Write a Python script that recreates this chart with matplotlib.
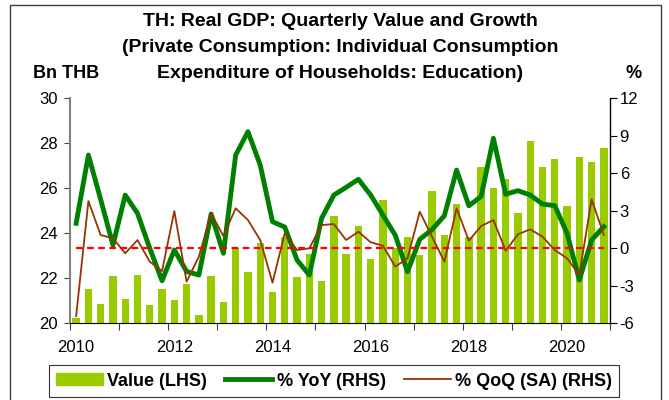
import matplotlib.pyplot as plt
import matplotlib.patches as mpatches
import numpy as np

plt.rcParams["font.family"] = "Liberation Sans"
plt.rcParams["axes.unicode_minus"] = False

# quarters 2010Q1 .. 2020Q4
quarters = [f"{y}Q{q}" for y in range(2010, 2021) for q in range(1, 5)]
year_labels = ["2010", "2012", "2014", "2016", "2018", "2020"]

# Bn THB (LHS)
value = [20.22, 21.52, 20.84, 22.09, 21.09, 22.15, 20.81, 21.52,
         21.05, 21.75, 20.36, 22.09, 20.95, 23.36, 22.27, 23.57,
         21.39, 23.85, 22.04, 23.06, 21.89, 24.77, 23.10, 24.32,
         22.86, 25.49, 23.35, 23.85, 23.05, 25.88, 23.93, 25.32,
         23.83, 26.95, 26.03, 26.41, 24.92, 28.10, 26.95, 27.32,
         25.21, 27.38, 27.16, 27.78]

# % YoY (RHS)
yoy = [2.0, 7.46, 3.9, 0.26, 4.26, 2.8, 0.0, -2.6,
       -0.13, -1.85, -2.14, 2.74, -0.4, 7.46, 9.33, 6.66,
       2.13, 1.7, -0.94, -2.14, 2.4, 4.26, 4.88, 5.52,
       4.26, 2.66, 1.05, -1.87, 0.72, 1.5, 2.6, 6.26,
       3.4, 4.15, 8.8, 4.33, 4.61, 4.26, 3.54, 3.41,
       1.2, -2.54, 0.66, 1.73]

# % QoQ (SA) (RHS)
qoq = [-5.42, 3.78, 1.06, 0.8, -0.4, 0.66, -1.07, -1.82,
       2.98, -2.67, -0.67, 2.8, 0.98, 3.2, 2.26, 0.66,
       -2.75, 1.2, -0.14, 0.0, 1.86, 1.94, 0.66, 1.33,
       0.48, 0.21, -1.47, -0.8, 2.93, 0.93, -1.07, 3.2,
       0.61, 1.78, 2.26, -0.2, 1.12, 1.52, 0.93, -0.14,
       -0.8, -2.14, 3.92, 1.06]

fig = plt.figure(figsize=(6.69, 4.0), dpi=100)
ax = fig.add_axes([70/669, 1 - 323.3/400, 540/669, 225/400])

x = np.arange(len(quarters))
ax.bar(x, value, width=0.6, color='#99CC00', zorder=2)
ax.set_ylim(20, 30)
ax.set_yticks(np.arange(20, 31, 2))
ax.set_xlim(-0.5, len(quarters) - 0.5)

# year boundaries as tick marks, labels every 2 years on first quarter
ax.set_xticks(np.arange(-0.5, len(quarters), 4))
ax.set_xticklabels([])
ax.set_xticks(np.arange(0, len(quarters), 8), minor=True)
ax.set_xticklabels(year_labels, minor=True)
ax.tick_params(axis='x', which='major', length=5, width=0.8, color='#404040')
ax.tick_params(axis='x', which='minor', length=0, pad=12, labelsize=12)
ax.tick_params(axis='y', length=4, width=0.8, pad=5, labelsize=12, color='#404040')

ax.spines['top'].set_visible(False)
ax.spines['right'].set_visible(False)
ax.spines['left'].set_color('#808080')
ax.spines['left'].set_linewidth(1.5)

ax2 = ax.twinx()
ax2.plot(x, yoy, color='#008000', lw=3.5, zorder=3)
ax2.plot(x, qoq, color='#993300', lw=1.3, zorder=4)
ax2.plot(x, np.zeros(len(x)), color='#FF0000', lw=1.6, ls=(0, (3, 2)), zorder=5)
ax2.set_ylim(-6, 12)
ax2.set_yticks(np.arange(-6, 13, 3))
ax2.tick_params(axis='y', length=5, width=0.8, pad=2, labelsize=12)
ax2.spines['top'].set_visible(False)
ax2.spines['left'].set_visible(False)
ax2.spines['bottom'].set_visible(False)
ax2.spines['right'].set_linewidth(1.0)

# titles
fig.text(340/669, 1 - 21/400, "TH: Real GDP: Quarterly Value and Growth",
         ha='center', va='center', fontsize=14, fontweight='bold')
fig.text(340/669, 1 - 47/400, "(Private Consumption: Individual Consumption",
         ha='center', va='center', fontsize=14, fontweight='bold')
fig.text(340/669, 1 - 73/400, "Expenditure of Households: Education)",
         ha='center', va='center', fontsize=14, fontweight='bold')
fig.text(33/669, 1 - 73/400, "Bn THB", ha='left', va='center', fontsize=13, fontweight='bold')
fig.text(625/669, 1 - 73/400, "%", ha='left', va='center', fontsize=13, fontweight='bold')

handles = [mpatches.Patch(color='#99CC00'),
           plt.Line2D([], [], color='#008000', lw=3.5),
           plt.Line2D([], [], color='#993300', lw=1.3)]
labels = ["Value (LHS)", "% YoY (RHS)", "% QoQ (SA) (RHS)"]
leg = fig.legend(handles, labels, loc='center', bbox_to_anchor=(334/669, 1 - 381/400),
                 ncol=3, frameon=True, fancybox=False, handlelength=2.6,
                 handleheight=0.6, handletextpad=0.25, columnspacing=1.0,
                 borderpad=0.4, prop={'weight': 'bold', 'size': 13})
leg.get_frame().set_edgecolor('black')
leg.get_frame().set_linewidth(0.8)

# outer frame
fig.add_artist(mpatches.Rectangle((10/669, -0.1), 651/669, 1.0875,
                                  transform=fig.transFigure, fill=False,
                                  edgecolor='#404040', lw=1.0))

fig.savefig("out.png", dpi=100)
